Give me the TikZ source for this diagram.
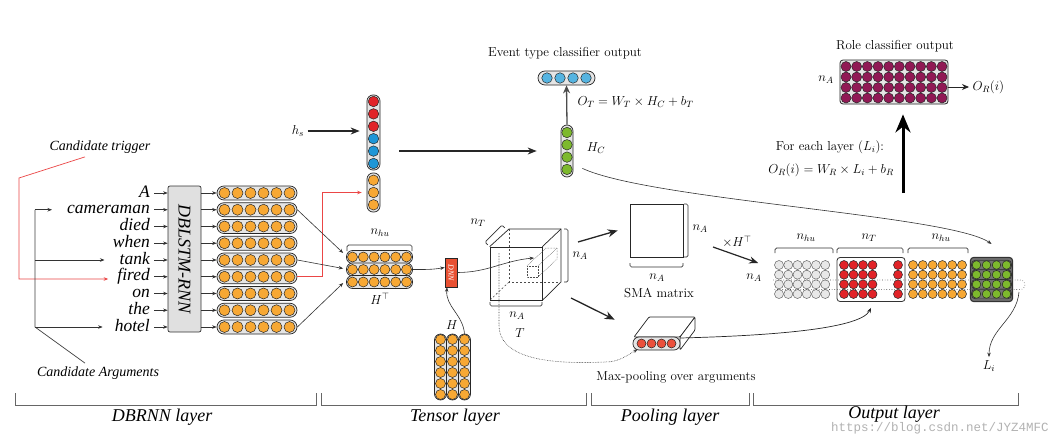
\RequirePackage{fix-cm}
\documentclass[tikz,border=0pt]{standalone}
\usepackage{fontspec}
\newfontfamily\tim{Liberation Serif}
\newfontfamily\wmk{Liberation Mono}
\usetikzlibrary{arrows.meta,calc}
\definecolor{corange}{RGB}{247,168,52}
\definecolor{cred}{RGB}{225,35,40}
\definecolor{cblue}{RGB}{30,150,215}
\definecolor{cbluel}{RGB}{85,180,225}
\definecolor{cgreen}{RGB}{125,185,45}
\definecolor{cpurple}{RGB}{145,25,85}
\definecolor{cgray}{RGB}{232,232,232}
\definecolor{cdnn}{RGB}{232,80,50}
\definecolor{cpool}{RGB}{235,80,60}
\definecolor{ctrig}{RGB}{235,70,70}
\tikzset{
  capsule/.style={draw=black!85, fill=black!10, line width=0.7pt, rounded corners=#1, inner sep=0pt},
  ball/.style={circle, draw=black!85, fill=#1, line width=0.5pt, inner sep=0pt},
  word/.style={font=\tim\itshape\fontsize{17.5}{20}\selectfont, inner sep=1pt, text height=11pt, text depth=3pt},
  sarrow/.style={black!80, line width=0.6pt, -{Stealth[length=4.5pt,width=3.5pt]}},
  bigarrow/.style={black!85, line width=1.1pt, -{Stealth[length=9pt,width=7pt]}},
  brk/.style={black!80, line width=0.7pt, rounded corners=1.5pt},
  lbr/.style={black!60, line width=0.8pt},
  layerlbl/.style={font=\tim\itshape\fontsize{18}{20}\selectfont},
  ital/.style={font=\tim\itshape\fontsize{14}{16}\selectfont},
}
\begin{document}
\begin{tikzpicture}[x=1pt,y=-1pt,font=\fontsize{13}{15}\selectfont]
\useasboundingbox[fill=white] (0,0) rectangle (1061,442);

% ---------- DBRNN part ----------
\foreach \w [count=\i] in {A,cameraman,died,when,tank,fired,on,the,hotel}
  \node[word, anchor=east] (w\i) at (151,{193+(\i-1)*16.75}) {\w};

\node[draw=black!80, fill=black!12, rounded corners=2pt, minimum width=33, minimum height=146, line width=0.7pt, inner sep=0pt] (dbl) at (184.5,259) {};
\node[rotate=-90, font=\tim\itshape\fontsize{18}{20}\selectfont] (dblt) at (dbl) {DBLSTM-RNN};

\foreach \i in {1,...,9}{
  \pgfmathsetmacro{\yy}{193+(\i-1)*16.75}
  \node[capsule=7pt, minimum width=80, minimum height=14] (rw\i) at (257,\yy) {};
  \foreach \j in {0,...,5}
    \node[ball=corange, minimum size=11] (rw\i-\j) at ({224.5+13*\j},\yy) {};
  \draw[sarrow] ([xshift=3pt]w\i.east) -- (dbl.west |- w\i.east);
  \draw[sarrow] (dbl.east |- rw\i) -- (rw\i.west);
}

\node[ital] (ct) at (100,147) {Candidate trigger};
\node[ital] (ca) at (98,373) {Candidate Arguments};
\coordinate (tb1) at (19,178);
\coordinate (tb2) at (19,279);
\draw[ctrig, line width=0.7pt, -{Stealth[length=4.5pt,width=3.5pt]}] ([xshift=-15pt]ct.south) -- (tb1) -- (tb2) -- ([xshift=-8pt]w6.west |- tb2);
\coordinate (ab1) at (35,327);
\coordinate (ab2) at (35,209.75);
\draw[black!75, line width=0.7pt] ([xshift=-13pt]ca.north) -- (ab1) -- (ab2);
\draw[sarrow] (ab2) -- ([xshift=-14pt]w2.west);
\draw[sarrow] (ab2 |- w5) -- ([xshift=-14pt]w5.west);
\draw[sarrow] (ab1 |- w9) -- ([xshift=-11pt]w9.west);

% ---------- concatenated vector ----------
\node[capsule=6pt, minimum width=13, minimum height=75] (cat1) at (373.5,132.5) {};
\foreach \c [count=\k from 0] in {cred,cred,cred,cblue,cblue,cblue}
  \node[ball=\c, minimum size=10.5] (ca-\k) at (373.5,{101.5+12.4*\k}) {};
\node[capsule=6pt, minimum width=13, minimum height=39] (cat2) at (373.5,192.5) {};
\foreach \k in {0,1,2}
  \node[ball=corange, minimum size=10.5] (cb-\k) at (373.5,{180.2+12.3*\k}) {};
\node (hs) at (298,131) {$h_s$};
\draw[bigarrow] (hs.east) -- ([xshift=-7pt]cat1.west |- hs);
\draw[ctrig, line width=0.7pt, -{Stealth[length=4.5pt,width=3.5pt]}] (rw6.east) -- ++(25,0) |- ([xshift=-5pt]cat2.west);

% ---------- H_C and event output ----------
\node[capsule=6pt, minimum width=12, minimum height=52] (HC) at (567,151) {};
\foreach \k in {0,...,3}
  \node[ball=cgreen, minimum size=10.5] (hc-\k) at (567,{132.5+12.3*\k}) {};
\node (hcl) at (596,148) {$H_C$};
\draw[bigarrow] ([xshift=19pt]cat1.east |- HC) -- ([xshift=-24pt]HC.west);

\node[capsule=7pt, minimum width=57, minimum height=14] (evt) at (566.5,78) {};
\foreach \k in {0,...,3}
  \node[ball=cbluel, minimum size=10.5] (ev-\k) at ({547+13*\k},78) {};
\node (evl) at (565,53) {Event type classifier output};
\draw[black!70, line width=1.3pt, -{Stealth[length=8pt,width=7pt]}] (HC.north) -- (evt.south);
\node[anchor=west] (ot) at (574,102) {$O_T = W_T \times H_C + b_T$};

% ---------- H^T ----------
\foreach \r/\yy in {1/257,2/269.5,3/282}{
  \node[capsule=6pt, minimum width=66, minimum height=13] (ht\r) at (379.5,\yy) {};
  \foreach \k in {0,...,5}
    \node[ball=corange, minimum size=10] (ht\r-\k) at ({352.5+10.8*\k},\yy) {};
}
\draw[sarrow] (rw2.east) -- ([xshift=-3pt,yshift=4pt]ht1.west);
\draw[sarrow] (rw5.east) -- ([xshift=-3pt,yshift=1pt]ht2.west);
\draw[sarrow] (rw9.east) -- ([xshift=-3pt,yshift=-1pt]ht3.west);
\draw[brk] (347,251) -- (347,245) -- (412,245) -- (412,251);
\node (nhu1) at (380,233) {$n_{hu}$};
\node (htl) at (380,299) {$H^{\top}$};

% ---------- DNN ----------
\node[draw=black!85, fill=cdnn, minimum width=12, minimum height=29, inner sep=0pt, line width=0.6pt] (dnn) at (451,272.5) {};
\node[rotate=-90, text=white, font=\tim\itshape\fontsize{8}{9}\selectfont, inner sep=0pt] (dnnt) at (dnn) {DNN};
\draw[sarrow] (ht2.east) to[out=0,in=190] ([yshift=5pt]dnn.west);

% ---------- H ----------
\foreach \c/\xx in {1/440.5,2/452.5,3/464.5}{
  \node[capsule=6pt, minimum width=12, minimum height=66] (hm\c) at (\xx,367) {};
  \foreach \k in {0,...,5}
    \node[ball=corange, minimum size=10] (hm\c-\k) at (\xx,{339.5+11*\k}) {};
}
\node (hl) at (452,325) {$H$};
\draw[sarrow] (hm3.north) to[out=95,in=-95] ([xshift=-4pt]dnn.south);

% ---------- Tensor cube ----------
\node[draw=black!85, minimum width=52, minimum height=53, inner sep=0pt, line width=0.7pt] (cf) at (516,273.5) {};
\node[minimum width=52, minimum height=53, inner sep=0pt, outer sep=0pt] (cb) at (535,255.5) {};
\draw[black!85, line width=0.7pt] (cf.north west) -- (cb.north west) -- (cb.north east) -- (cb.south east) -- (cf.south east);
\draw[black!85, line width=0.7pt] (cf.north east) -- (cb.north east);
\draw[black!70, line width=0.6pt, dash pattern=on 2pt off 2pt] (cb.north west) -- (cb.south west) -- (cb.south east);
\draw[black!70, line width=0.6pt, dash pattern=on 2pt off 2pt] (cb.south west) -- (cf.south west);
% fiber
\draw[black!70, line width=0.5pt, densely dotted] (527,266) rectangle (538,277);
\draw[black!70, line width=0.5pt, densely dotted] (527,266) -- (546,248) -- (557,248) -- (557,259) -- (538,277);
\draw[black!70, line width=0.5pt, densely dotted] (538,266) -- (557,248);
\coordinate (rodin) at (534,258);
\draw[sarrow] (dnn.east) to[out=0,in=185] (rodin);
% brackets
\draw[brk] (487.8,244.9) -- (485,242) -- (502,225) -- (504.8,227.9);
\node (nt1) at (478,223) {$n_T$};
\draw[brk] (564,229) -- (568,229) -- (568,282) -- (564,282);
\node[anchor=west] (na1) at (569,256) {$n_A$};
\draw[brk] (490,302) -- (490,306) -- (542,306) -- (542,302);
\node (na2) at (517,316) {$n_A$};
\node (tl) at (520,333) {$T$};

% ---------- SMA ----------
\node[draw=black!85, minimum size=53, inner sep=0pt, line width=0.7pt] (sma) at (656.5,230.5) {};
\draw[brk] (684,204) -- (688,204) -- (688,257) -- (684,257);
\node[anchor=west] (na3) at (689,229) {$n_A$};
\draw[brk] (630,263) -- (630,267) -- (683,267) -- (683,263);
\node (na4) at (657,278) {$n_A$};
\node (smal) at (659,293) {SMA matrix};
\coordinate (a1) at (578,242);
\draw[black!85, line width=1.3pt, -{Stealth[length=10pt,width=8pt]}] (a1) -- ([xshift=-12pt]sma.west);

% ---------- pooling box ----------
\draw[black!85, line width=0.7pt, fill=white, rounded corners=1pt] (634,337) -- (649,317) -- (695,317) -- (680,337) -- cycle;
\draw[black!85, line width=0.7pt, fill=white, rounded corners=1pt] (695,317) -- (695,330) -- (680,350) -- (680,337) -- cycle;
\node[capsule=6pt, minimum width=47, minimum height=13] (pool) at (656.5,343.5) {};
\foreach \k in {0,...,3}
  \node[ball=cpool, minimum size=9] (po-\k) at ({641.5+10*\k},343.5) {};
\node (mpl) at (676,377) {Max-pooling over arguments};
\coordinate (a2) at (571,298);
\draw[black!85, line width=1.3pt, -{Stealth[length=10pt,width=8pt]}] (a2) -- ([xshift=-18pt,yshift=17pt]pool.north west);
\coordinate (dstart) at (499,253);
\draw[black!75, line width=0.6pt, densely dotted, -{Stealth[length=4.5pt,width=3.5pt]}] (dstart) -- (499,325) .. controls (499,362) and (560,364) .. (605,362) to[out=0,in=-150] ([xshift=5pt,yshift=1pt]pool.south west);

% ---------- Output layer matrix ----------
\node[draw=black!80, fill=white, rounded corners=3pt, minimum width=68, minimum height=44, line width=0.8pt, inner sep=0pt] (redbox) at (871,279.5) {};
\node[draw=black!80, fill=black!55, rounded corners=3pt, minimum width=42, minimum height=44, line width=1.1pt, inner sep=0pt] (gbox) at (991.5,279.5) {};
\foreach \r in {0,...,3}{
  \pgfmathsetmacro{\yy}{265+9.67*\r}
  \foreach \k in {0,...,5}
    \node[ball=cgray, draw=black!60, minimum size=9] (og\r-\k) at ({779+9.25*\k},\yy) {};
  \foreach \xx [count=\k] in {844,853.5,863,872.5,898}
    \node[ball=cred, minimum size=9] (or\r-\k) at (\xx,\yy) {};
  \foreach \k in {0,...,5}
    \node[ball=corange, minimum size=9] (oo\r-\k) at ({913+9.8*\k},\yy) {};
  \node[capsule=4pt, fill=black!55, draw=black!80, minimum width=40, minimum height=9.7] (gr\r) at (991.5,\yy) {};
  \foreach \k in {0,...,3}
    \node[ball=cgreen, minimum size=8.6] (ogr\r-\k) at ({976.5+10*\k},\yy) {};
}
\draw[black!70, line width=0.6pt, dotted] (773,280) -- (1020,280) to[out=0,in=0,looseness=1.8] (1020,289.5) -- (773,289.5);
\draw[brk] (775,253) -- (775,248) -- (833,248) -- (833,253);
\node (nhu2) at (806,238) {$n_{hu}$};
\draw[brk] (837,253) -- (837,248) -- (903,248) -- (903,253);
\node (nt2) at (869,238) {$n_T$};
\draw[brk] (908,253) -- (908,248) -- (968,248) -- (968,253);
\node (nhu3) at (941,238) {$n_{hu}$};
\node (na5) at (754,278) {$n_A$};
\node (xht) at (737,242) {$\times H^{\top}$};
\coordinate (a3) at (713,247);
\draw[black!85, line width=1.2pt, -{Stealth[length=9pt,width=7pt]}] (a3) -- ([xshift=-16pt,yshift=2pt]og0-0.west);

\draw[sarrow] ([xshift=9pt,yshift=9pt]HC.south east) .. controls (650,200) and (950,215) .. ([yshift=13pt]gbox.north);
\draw[black!85, line width=0.7pt, -{Stealth[length=5pt,width=4pt]}] (680,338) .. controls (760,336) and (860,330) .. ([yshift=-6pt]redbox.south);
\node (li) at (989,366) {$L_i$};
\draw[sarrow] (1019,292) to[out=-95,in=90] (li.north);

% ---------- Role classifier ----------
\node[draw=black!85, fill=black!10, rounded corners=3pt, minimum width=108, minimum height=44, line width=0.8pt, inner sep=0pt] (role) at (894,82) {};
\foreach \r in {0,...,3}
  \foreach \k in {0,...,9}
    \node[ball=cpurple, minimum size=10] (ro\r-\k) at ({846+10.67*\k},{66.5+10.5*\r}) {};
\node (rol) at (895,46) {Role classifier output};
\node (na6) at (826,80) {$n_A$};
\node[anchor=west] (OR) at (969,87) {$O_R(i)$};
\draw[black!85, line width=0.9pt, -{Stealth[length=7pt,width=6pt]}] (role.east |- OR) -- (OR.west);
\coordinate (bigs) at (903,193);
\draw[black, line width=3pt, -{Stealth[length=18pt,width=15pt]}] (bigs) -- ([yshift=-10pt]bigs |- role.south);
\node (fe) at (830,147) {For each layer ($L_i$):};
\node (orf) at (831,170) {$O_R(i) = W_R \times L_i + b_R$};

% ---------- bottom layer brackets ----------
\draw[lbr] (15,393) -- (15,405) -- (316,405) -- (316,393);
\draw[lbr] (321,393) -- (321,405) -- (586,405) -- (586,393);
\draw[lbr] (591,393) -- (591,405) -- (749,405) -- (749,393);
\draw[lbr] (753,393) -- (753,405) -- (1018,405) -- (1018,393);
\node[layerlbl] (l1) at (162,417) {DBRNN layer};
\node[layerlbl] (l2) at (455,417) {Tensor layer};
\node[layerlbl] (l3) at (670,417) {Pooling layer};
\node[layerlbl] (l4) at (894,414) {Output layer};
\node[font=\wmk\fontsize{12.5}{14}\selectfont, text=black!30] (wm) at (940,428) {https://blog.csdn.net/JYZ4MFC};
\end{tikzpicture}
\end{document}
